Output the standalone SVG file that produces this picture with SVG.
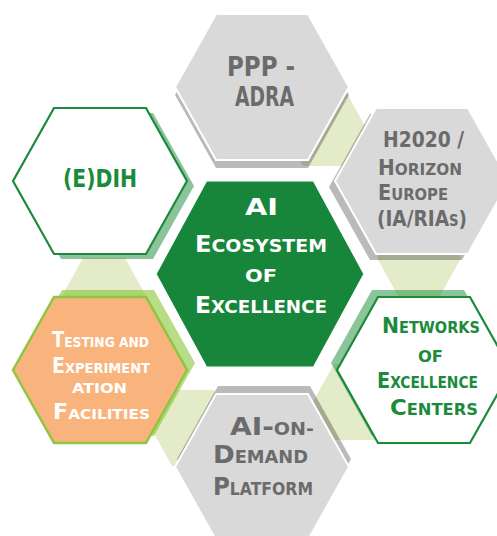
<svg xmlns="http://www.w3.org/2000/svg" xmlns:xlink="http://www.w3.org/1999/xlink" width="497" height="536" viewBox="0 0 497 536">
<style>
text{font-family:"DejaVu Sans Condensed","DejaVu Sans","Liberation Sans",sans-serif;font-weight:bold;}
.gt{fill:#6b6b6b;}
.gr{fill:#1b8a3b;}
.wt{fill:#ffffff;}
.tr{fill:#e3ebc9;}
.shg{fill:#000;fill-opacity:.27;}
.shv{fill:#178a38;fill-opacity:.5;}
.sho{fill:#8dc63f;fill-opacity:.62;}
.hg{fill:#d9d9d9;stroke:#fff;stroke-width:2;}
.hw{fill:#fff;stroke:#1b8a3b;stroke-width:2.2;}
.ho{fill:#f9b47e;stroke:#8dc63f;stroke-width:2.5;}
.hc{fill:#17863a;stroke:#fff;stroke-width:3;}
.sc{font-variant:small-caps;}
</style>
<defs>
<polygon id="hx" points="-87,0 -46,-73 46,-73 87,0 46,73 -46,73"/>
<polygon id="hs" points="-42,0 -21,-38 21,-38 42,0 21,38 -21,38"/>
<polygon id="hcn" points="-105,0 -54,-94 54,-94 105,0 54,94 -54,94"/>
</defs>
<rect width="497" height="536" fill="#fff"/>

<g id="connectors">
<use xlink:href="#hs" class="tr" transform="translate(324,128)"/>
<use xlink:href="#hs" class="tr" transform="translate(419,258)"/>
<use xlink:href="#hs" class="tr" transform="translate(355,402)"/>
<use xlink:href="#hs" class="tr" transform="translate(193,428)"/>
<use xlink:href="#hs" class="tr" transform="translate(104,296)"/>
</g>

<g id="ppp-adra">
<use xlink:href="#hx" class="shg" transform="translate(262,95)"/>
<use xlink:href="#hx" class="hg" transform="translate(262,87)"/>
<text class="gt" font-size="26" text-anchor="middle"><tspan x="261" y="76" textLength="68" lengthAdjust="spacingAndGlyphs">PPP -</tspan><tspan x="264.5" y="106" textLength="59" lengthAdjust="spacingAndGlyphs">ADRA</tspan></text>
</g>

<g id="h2020">
<use xlink:href="#hx" class="shg" transform="translate(416,187)"/>
<use xlink:href="#hx" class="hg" transform="translate(422,181)"/>
<text class="gt" font-size="21" x="383" y="147" textLength="81" lengthAdjust="spacingAndGlyphs">H2020 /</text>
<text class="gt" font-size="21" x="378" y="175" textLength="84" lengthAdjust="spacingAndGlyphs">H<tspan font-size="16">ORIZON</tspan></text>
<text class="gt" font-size="21" x="378" y="200" textLength="70" lengthAdjust="spacingAndGlyphs">E<tspan font-size="16">UROPE</tspan></text>
<text class="gt sc" font-size="21" x="377" y="226" textLength="90" lengthAdjust="spacingAndGlyphs">(IA/RIAs)</text>
</g>

<g id="networks">
<use xlink:href="#hx" class="shv" transform="translate(418,363)"/>
<use xlink:href="#hx" class="hw" transform="translate(424,370)"/>
<text class="gr" font-size="21" x="382" y="333" textLength="98" lengthAdjust="spacingAndGlyphs">N<tspan font-size="15">ETWORKS</tspan></text>
<text class="gr" font-size="15" x="418" y="362" textLength="25" lengthAdjust="spacingAndGlyphs">OF</text>
<text class="gr" font-size="21" x="377" y="388" textLength="101" lengthAdjust="spacingAndGlyphs">E<tspan font-size="15">XCELLENCE</tspan></text>
<text class="gr" font-size="21" x="390" y="415" textLength="88" lengthAdjust="spacingAndGlyphs">C<tspan font-size="15">ENTERS</tspan></text>
</g>

<g id="ai-on-demand">
<use xlink:href="#hx" class="shg" transform="translate(264,459)"/>
<use xlink:href="#hx" class="hg" transform="translate(262,467)"/>
<text class="gt" font-size="25" x="230" y="435" textLength="84" lengthAdjust="spacingAndGlyphs">AI-<tspan font-size="17">ON-</tspan></text>
<text class="gt" font-size="25" x="213" y="463" textLength="95" lengthAdjust="spacingAndGlyphs">D<tspan font-size="17">EMAND</tspan></text>
<text class="gt" font-size="25" x="213" y="495" textLength="100" lengthAdjust="spacingAndGlyphs">P<tspan font-size="17">LATFORM</tspan></text>
</g>

<g id="testing">
<use xlink:href="#hx" class="sho" transform="translate(108,363)"/>
<use xlink:href="#hx" class="ho" transform="translate(100,370)"/>
<text class="wt" font-size="21" x="52" y="347" textLength="97" lengthAdjust="spacingAndGlyphs">T<tspan font-size="14.5">ESTING AND</tspan></text>
<text class="wt" font-size="21" x="52" y="373" textLength="98" lengthAdjust="spacingAndGlyphs">E<tspan font-size="14.5">XPERIMENT</tspan></text>
<text class="wt" font-size="14.5" x="72" y="393" textLength="55" lengthAdjust="spacingAndGlyphs">ATION</text>
<text class="wt" font-size="21" x="53" y="419" textLength="97" lengthAdjust="spacingAndGlyphs">F<tspan font-size="14.5">ACILITIES</tspan></text>
</g>

<g id="edih">
<use xlink:href="#hx" class="shv" transform="translate(107,186)"/>
<use xlink:href="#hx" class="hw" transform="translate(100,181)"/>
<text class="gr" font-size="25" x="63" y="187" textLength="74" lengthAdjust="spacingAndGlyphs">(E)DIH</text>
</g>

<g id="center">
<use xlink:href="#hcn" class="hc" transform="translate(260,274)"/>
<text class="wt" font-size="23" x="245" y="215" textLength="33" lengthAdjust="spacingAndGlyphs">AI</text>
<text class="wt" font-size="23" x="195" y="252" textLength="132" lengthAdjust="spacingAndGlyphs">E<tspan font-size="18">COSYSTEM</tspan></text>
<text class="wt" font-size="18" x="245" y="282" textLength="32" lengthAdjust="spacingAndGlyphs">OF</text>
<text class="wt" font-size="23" x="195" y="313" textLength="132" lengthAdjust="spacingAndGlyphs">E<tspan font-size="18">XCELLENCE</tspan></text>
</g>
</svg>
